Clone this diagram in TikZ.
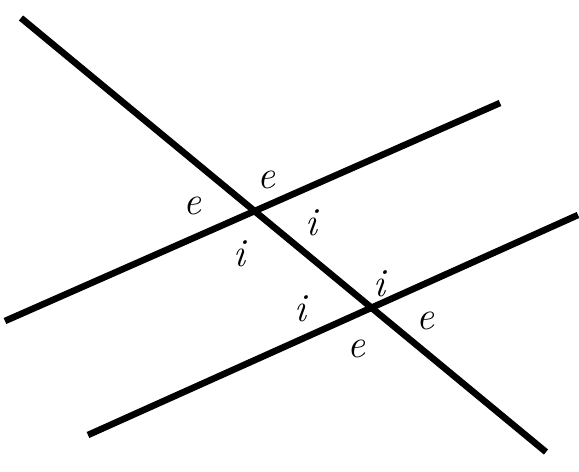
\documentclass[tikz,border=0pt]{standalone}
\usepackage{tikz}
\usetikzlibrary{calc}
\tikzset{
  bigline/.style={line width=5.6pt,line cap=butt},
  anglab/.style={font=\fontsize{34}{40}\selectfont\itshape,inner sep=0pt}
}
\begin{document}
\begin{tikzpicture}[x=0.03cm,y=-0.03cm]
  \useasboundingbox (0,0) rectangle (579,472);
  % end points of the three lines
  \coordinate (tA) at (21,18);
  \coordinate (tB) at (546,452);
  \coordinate (pA) at (5,321);
  \coordinate (pB) at (500,103);
  \coordinate (qA) at (88,435);
  \coordinate (qB) at (578,215);
  % transversal and the two parallels
  \draw[bigline] (tA) -- (tB);
  \draw[bigline] (pA) -- (pB);
  \draw[bigline] (qA) -- (qB);
  % Labels at upper crossing
  \node[anglab] (e1) at (192,206) {e};
  \node[anglab] (e2) at (266,180) {e};
  \node[anglab] (i1) at (311,223) {i};
  \node[anglab] (i2) at (239,254) {i};
  % Labels at lower crossing
  \node[anglab] (i3) at (379,284) {i};
  \node[anglab] (i4) at (300,309) {i};
  \node[anglab] (e3) at (425,321) {e};
  \node[anglab] (e4) at (356,349) {e};
\end{tikzpicture}
\end{document}
